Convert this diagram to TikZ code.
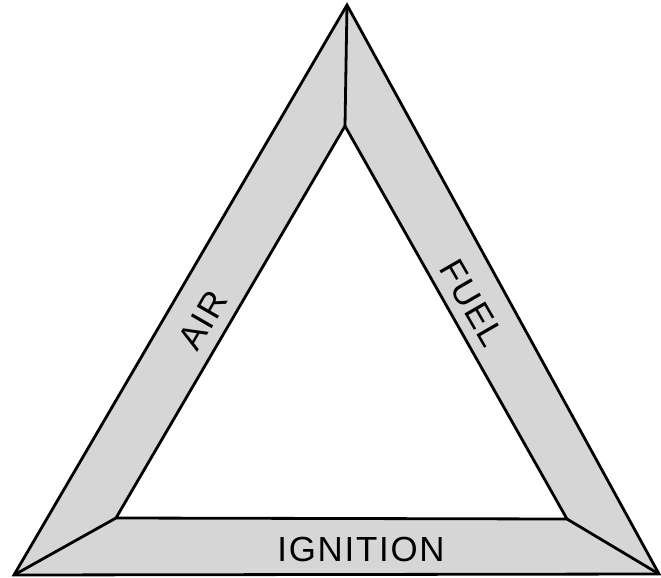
\documentclass[tikz,border=0pt]{standalone}
\usepackage{fontspec}
\setmainfont{Liberation Sans}[LetterSpace=5]
\usepackage{tikz}
\usetikzlibrary{positioning}

\begin{document}
\begin{tikzpicture}[
  x=1bp, y=-1bp,
  band/.style={fill=gray!32,draw=black,line width=2.8bp,line join=miter},
  edge/.style={draw=black,line width=2.8bp},
  lbl/.style={font=\fontsize{35}{40}\selectfont,inner sep=0pt}
]
\useasboundingbox (0,0) rectangle (661,578);
% outer corners
\coordinate (top) at (347,5);
\coordinate (bl) at (14,575);
\coordinate (br) at (659,574);
% inner corners
\coordinate (itop) at (345,126);
\coordinate (ibl) at (116,518);
\coordinate (ibr) at (567,519);
\path[band] (top) -- (br) -- (bl) -- cycle;
\path[fill=white,draw=black,line width=2.8bp] (itop) -- (ibr) -- (ibl) -- cycle;
\draw[edge] (top) -- (itop);
\draw[edge] (bl) -- (ibl);
\draw[edge] (br) -- (ibr);
\node[lbl,rotate=60] (air) at (203,320) {AIR};
\node[lbl,rotate=-60] (fuel) at (472,303) {FUEL};
\node[lbl] (ign) at (361,549) {IGNITION};
\end{tikzpicture}
\end{document}
